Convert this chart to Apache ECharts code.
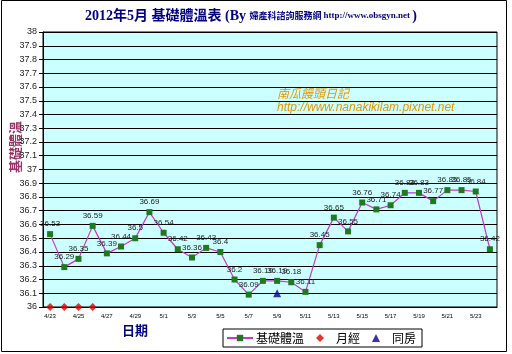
<!DOCTYPE html>
<html><head><meta charset="utf-8">
<script src="https://cdn.jsdelivr.net/npm/echarts@6/dist/echarts.min.js"></script>
<style>html,body{margin:0;padding:0;background:#fff}#c{width:512px;height:354px}</style>
</head><body><div id="c"></div>
<script>
const dates = ['4/23','4/24','4/25','4/26','4/27','4/28','4/29','4/30','5/1','5/2','5/3','5/4','5/5','5/6','5/7','5/8','5/9','5/10','5/11','5/12','5/13','5/14','5/15','5/16','5/17','5/18','5/19','5/20','5/21','5/22','5/23','5/24'];
const temps = [36.53,36.29,36.35,36.59,36.39,36.44,36.5,36.69,36.54,36.42,36.36,36.43,36.4,36.2,36.09,36.19,36.19,36.18,36.11,36.45,36.65,36.55,36.76,36.71,36.74,36.83,36.83,36.77,36.85,36.85,36.84,36.42];
const periodDays = ['4/23','4/24','4/25','4/26'];
const periodValue = 36;
const intercourseDays = ['5/9'];
const intercourseValue = 36.1;

const periodData = dates.map(d => periodDays.includes(d) ? periodValue : null);
const interData = dates.map(d => intercourseDays.includes(d) ? intercourseValue : null);

const chart = echarts.init(document.getElementById('c'));
chart.setOption({
  animation: false,
  backgroundColor: '#fff',
  title: {
    left: 80, top: 4,
    text: '{b|2012年5月 基礎體溫表 (By }{s|婦產科諮詢服務網 }{u|http://www.obsgyn.net }{b|)}',
    textStyle: {
      rich: {
        b: {fontFamily: 'Liberation Serif, Noto Sans CJK TC', fontWeight: 'bold', fontSize: 14, color: '#000080'},
        s: {fontFamily: 'Noto Sans CJK TC', fontSize: 9, color: '#000080'},
        u: {fontFamily: 'Liberation Serif', fontSize: 9, color: '#000080'}
      }
    }
  },
  grid: {left: 43, right: 15, top: 32, bottom: 47, show: true, backgroundColor: '#ccffff', borderColor: '#000', borderWidth: 1},
  legend: {
    left: 223, top: 329,
    borderColor: '#000', borderWidth: 1, borderRadius: 0, padding: [3, 6, 3, 3], itemGap: 12,
    itemWidth: 26, itemHeight: 8, symbolKeepAspect: true,
    textStyle: {fontFamily: 'Noto Sans CJK TC', fontSize: 12, color: '#000', padding: [0, 0, 0, -2]},
    data: [
      {name: '基礎體溫'},
      {name: '月經', icon: 'path://M5,0L10,5L5,10L0,5Z'},
      {name: '同房', icon: 'path://M5,0L10,10L0,10Z'}
    ]
  },
  xAxis: {
    type: 'category', data: dates, boundaryGap: true,
    axisLine: {lineStyle: {color: '#000'}},
    axisTick: {interval: 1, length: 4, lineStyle: {color: '#000'}},
    axisLabel: {interval: 1, fontSize: 6, color: '#000', fontFamily: 'Liberation Sans', margin: 6},
    splitLine: {show: false}
  },
  yAxis: {
    type: 'value', min: 36, max: 38, interval: 0.1,
    axisLine: {show: true, lineStyle: {color: '#000'}},
    axisTick: {show: true, length: 4, lineStyle: {color: '#000'}},
    axisLabel: {fontSize: 9, color: '#222', fontFamily: 'Liberation Sans', margin: 6},
    splitLine: {lineStyle: {color: '#000', width: 1}}
  },
  graphic: [
    {type: 'rect', shape: {x: 1.5, y: 0.5, width: 505, height: 351}, style: {fill: null, stroke: '#000', lineWidth: 1}, z: 100},
    {type: 'text', x: 15, y: 147, rotation: Math.PI / 2, style: {text: '基礎體溫', fontFamily: 'Noto Sans CJK TC', fontWeight: 'bold', fontSize: 13, fill: '#993366', align: 'center', verticalAlign: 'middle'}},
    {type: 'text', x: 135, y: 330, style: {text: '日期', fontFamily: 'Noto Sans CJK TC', fontWeight: 'bold', fontSize: 13, fill: '#000080', align: 'center', verticalAlign: 'middle'}},
    {type: 'text', x: 277, y: 93, style: {text: '南瓜饅頭日記', fontFamily: 'Noto Sans CJK TC', fontStyle: 'italic', fontSize: 12, fill: '#e69500', verticalAlign: 'middle'}, z: 50},
    {type: 'text', x: 277, y: 108, style: {text: 'http://www.nanakikilam.pixnet.net', fontFamily: 'Liberation Sans', fontStyle: 'italic', fontSize: 12, fill: '#e69500', verticalAlign: 'middle'}, z: 50}
  ],
  series: [
    {
      name: '基礎體溫', type: 'line', data: temps,
      lineStyle: {color: '#cc33cc', width: 1.2},
      itemStyle: {color: '#1f7a1f', borderWidth: 0},
      symbol: 'rect', symbolSize: 6,
      label: {show: true, position: 'top', distance: 3, fontSize: 8, color: '#222', fontFamily: 'Liberation Sans'}
    },
    {
      name: '月經', type: 'scatter', data: periodData, clip: false,
      symbol: 'diamond', symbolSize: 8, itemStyle: {color: '#e00000'}, z: 5
    },
    {
      name: '同房', type: 'scatter', data: interData, clip: false,
      symbol: 'triangle', symbolSize: 8, itemStyle: {color: '#000099'}, z: 5
    }
  ]
});
</script></body></html>
